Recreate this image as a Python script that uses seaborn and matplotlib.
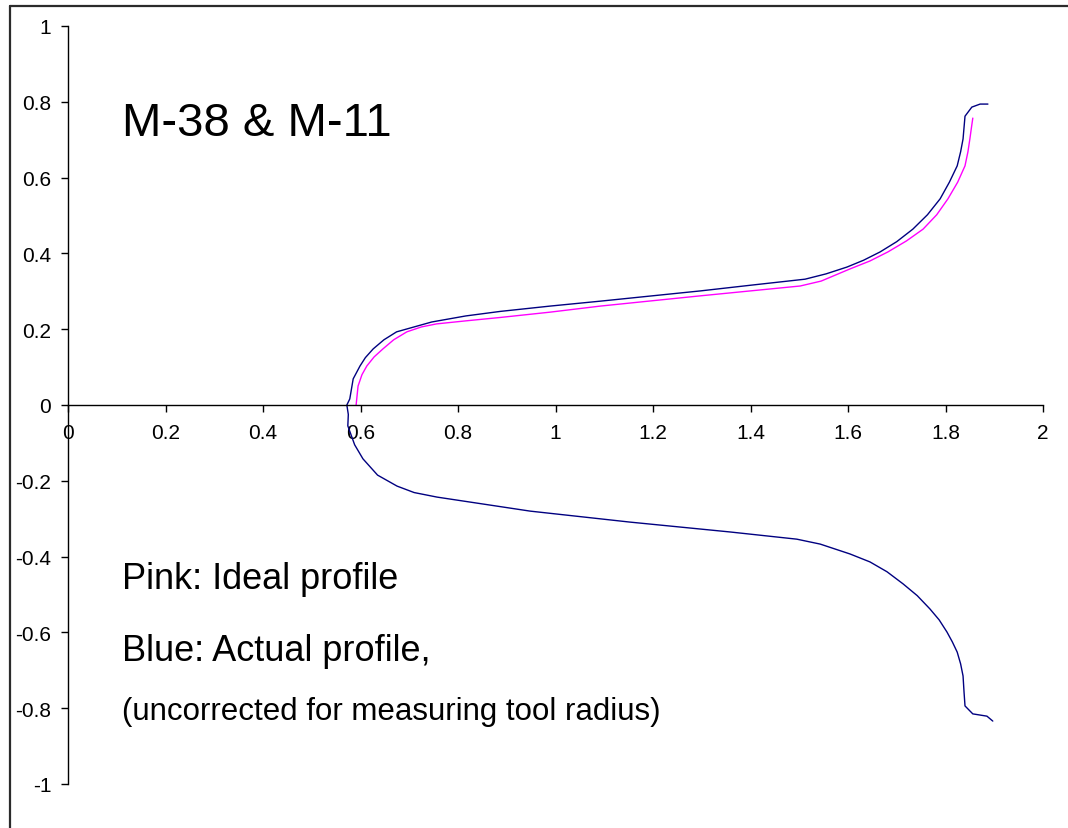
import numpy as np
import pandas as pd
import seaborn as sns
import matplotlib.pyplot as plt
from matplotlib.lines import Line2D

# Actual profile (blue): from top end back to the axis, then down to bottom end
blue_x = [1.887, 1.871, 1.854, 1.840, 1.836, 1.831, 1.824, 1.808, 1.789, 1.763,
          1.733, 1.700, 1.666, 1.632, 1.598, 1.555, 1.512, 1.400, 1.297, 1.092,
          0.989, 0.887, 0.816, 0.746, 0.674, 0.648, 0.626, 0.610, 0.599, 0.585,
          0.578, 0.572,
          0.575, 0.574, 0.588, 0.605, 0.635, 0.675, 0.710, 0.757, 0.948, 1.153,
          1.358, 1.495, 1.543, 1.604, 1.645, 1.680, 1.713, 1.742, 1.768, 1.787,
          1.803, 1.814, 1.824, 1.831, 1.836, 1.838, 1.840, 1.856, 1.885, 1.897]
blue_y = [0.794, 0.794, 0.786, 0.762, 0.702, 0.668, 0.631, 0.588, 0.544, 0.502,
          0.464, 0.431, 0.404, 0.382, 0.364, 0.346, 0.332, 0.316, 0.301, 0.274,
          0.261, 0.247, 0.235, 0.219, 0.193, 0.172, 0.148, 0.125, 0.103, 0.069,
          0.016, 0.0,
          -0.025, -0.055, -0.105, -0.142, -0.185, -0.214, -0.231, -0.243, -0.280, -0.309,
          -0.335, -0.354, -0.367, -0.393, -0.414, -0.440, -0.472, -0.503, -0.538, -0.567,
          -0.599, -0.625, -0.652, -0.683, -0.715, -0.757, -0.794, -0.815, -0.821, -0.834]

# Ideal profile (pink)
pink_x = [0.591, 0.595, 0.603, 0.613, 0.628, 0.646, 0.668, 0.695, 0.725, 0.756,
          0.816, 0.887, 0.989, 1.092, 1.297, 1.502, 1.545, 1.604, 1.645, 1.682,
          1.720, 1.754, 1.782, 1.805, 1.825, 1.840, 1.846, 1.850, 1.853, 1.856]
pink_y = [0.0, 0.05, 0.080, 0.103, 0.127, 0.148, 0.172, 0.193, 0.206, 0.214,
          0.222, 0.231, 0.245, 0.261, 0.288, 0.314, 0.327, 0.359, 0.380, 0.404,
          0.433, 0.464, 0.502, 0.544, 0.588, 0.631, 0.668, 0.702, 0.730, 0.757]

x_ticks = [0, 0.2, 0.4, 0.6, 0.8, 1, 1.2, 1.4, 1.6, 1.8, 2]
x_labels = ["0", "0.2", "0.4", "0.6", "0.8", "1", "1.2", "1.4", "1.6", "1.8", "2"]
y_ticks = [-1, -0.8, -0.6, -0.4, -0.2, 0, 0.2, 0.4, 0.6, 0.8, 1]
y_labels = ["-1", "-0.8", "-0.6", "-0.4", "-0.2", "0", "0.2", "0.4", "0.6", "0.8", "1"]

title = "M-38 & M-11"
notes = ["Pink: Ideal profile", "Blue: Actual profile,",
         "(uncorrected for measuring tool radius)"]

sns.set_style("ticks")
plt.rcParams['font.family'] = ['Liberation Sans', 'DejaVu Sans']
plt.rcParams['axes.unicode_minus'] = False
plt.rcParams['text.color'] = 'black'

fig = plt.figure(figsize=(10.68, 8.29), dpi=100)
ax = fig.add_axes([68/1068, 44/829, 975/1068, 758/829])

df_blue = pd.DataFrame({"x": blue_x, "y": blue_y})
df_pink = pd.DataFrame({"x": pink_x, "y": pink_y})
sns.lineplot(data=df_blue, x="x", y="y", sort=False, estimator=None,
             color="#000080", linewidth=1.0, ax=ax)
sns.lineplot(data=df_pink, x="x", y="y", sort=False, estimator=None,
             color="#ff00ff", linewidth=1.0, ax=ax)

ax.set_xlim(0, 2)
ax.set_ylim(-1, 1)
ax.set_xticks(x_ticks)
ax.set_xticklabels(x_labels)
ax.set_yticks(y_ticks)
ax.set_yticklabels(y_labels)
ax.set_xlabel("")
ax.set_ylabel("")

# Excel style: x axis crosses at y = 0
ax.spines['bottom'].set_position(('data', 0))
ax.spines['top'].set_visible(False)
ax.spines['right'].set_visible(False)
for s in ['left', 'bottom']:
    ax.spines[s].set_color("black")
    ax.spines[s].set_linewidth(1.0)
ax.tick_params(axis='y', direction='out', length=5, width=1, pad=7,
               labelsize=15, colors='black', labelcolor='black')
ax.tick_params(axis='x', direction='out', length=5, width=1, pad=8,
               labelsize=15, colors='black', labelcolor='black')
ax.set_facecolor("white")

ax.text(0.111, 0.744, title, fontsize=34, ha='left', va='center', color='black')
ax.text(0.111, -0.459, notes[0], fontsize=26, ha='left', va='center', color='black')
ax.text(0.111, -0.649, notes[1], fontsize=26, ha='left', va='center', color='black')
ax.text(0.111, -0.807, notes[2], fontsize=22.5, ha='left', va='center', color='black')

# outer chart frame (only left and top edges visible)
x0, y0 = 10/1068, 1 - 7/829
fig.add_artist(Line2D([x0, x0], [0, y0], transform=fig.transFigure,
                      color="#2b2b2b", linewidth=1.6))
fig.add_artist(Line2D([x0, 1], [y0, y0], transform=fig.transFigure,
                      color="#2b2b2b", linewidth=1.6))

fig.savefig("out.png", dpi=100, facecolor="white")
